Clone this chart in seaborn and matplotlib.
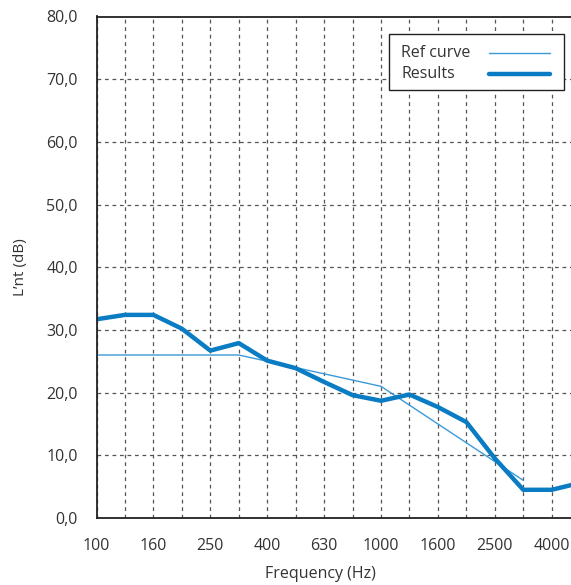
import matplotlib
matplotlib.use("Agg")
import matplotlib.pyplot as plt
import numpy as np
import pandas as pd
import seaborn as sns

# Third-octave bands (Hz)
freqs = [100, 125, 160, 200, 250, 315, 400, 500, 630, 800,
         1000, 1250, 1600, 2000, 2500, 3150, 4000, 5000]

# Measured L'nt (dB)
results = [31.7, 32.4, 32.4, 30.2, 26.7, 27.9, 25.1, 23.9, 21.7, 19.6,
           18.7, 19.7, 17.7, 15.3, 9.5, 4.5, 4.5, 5.6]

# Shifted reference curve, 100 - 3150 Hz
ref_curve = [26.0, 26.0, 26.0, 26.0, 26.0, 26.0, 25.0, 24.0, 23.0, 22.0,
             21.0, 18.0, 15.0, 12.0, 9.0, 6.0]

y_ticks = [0, 10, 20, 30, 40, 50, 60, 70, 80]

ref_color = '#3a9ad9'
res_color = '#0a7cc4'

sns.set_style("white")
plt.rcParams['font.family'] = ['Open Sans', 'DejaVu Sans']

df_res = pd.DataFrame({'pos': np.arange(len(freqs)), 'val': results})
df_ref = pd.DataFrame({'pos': np.arange(len(ref_curve)), 'val': ref_curve})

fig = plt.figure(figsize=(5.71, 5.85), dpi=100)
ax = fig.add_axes([96.5 / 571, 67 / 585, 483.7 / 571, 501.5 / 585])

sns.lineplot(data=df_ref, x='pos', y='val', ax=ax, color=ref_color, linewidth=1.0,
             legend=False)
sns.lineplot(data=df_res, x='pos', y='val', ax=ax, color=res_color, linewidth=3.2,
             legend=False)

ax.set_xlim(0, 17)
ax.set_ylim(0, 80)
ax.set_xticks(np.arange(len(freqs)))
ax.set_xticklabels([str(f) if i % 2 == 0 else '' for i, f in enumerate(freqs)])
ax.set_yticks(y_ticks)
ax.set_yticklabels([f'{v:.1f}'.replace('.', ',') for v in y_ticks])

ax.grid(True, color='#555555', linestyle=(0, (3, 3)), linewidth=0.9)
ax.tick_params(axis='both', labelsize=11.5, colors='#333333', length=3, width=0.8,
               pad=10.5, color='#777777')
ax.tick_params(axis='x', length=0, pad=14.5)

for side in ['left', 'bottom', 'top', 'right']:
    ax.spines[side].set_color('#222222')
    ax.spines[side].set_linewidth(1.3)

ax.set_xlabel('Frequency (Hz)', fontsize=11.5, color='#333333', labelpad=10)
ax.xaxis.set_label_coords(0.464, -0.095)
ax.set_ylabel('L’nt (dB)', fontsize=11, color='#333333', labelpad=13)

# legend box (labels left, line samples right)
tr = ax.transAxes
ax.add_patch(plt.Rectangle((0.605, 0.853), 0.362, 0.112, transform=tr,
                           facecolor='white', edgecolor='#222222', linewidth=1.0,
                           zorder=5))
ax.text(0.630, 0.927, 'Ref curve', transform=tr, fontsize=11.5, color='#333333',
        va='center', ha='left', zorder=6)
ax.text(0.630, 0.885, 'Results', transform=tr, fontsize=11.5, color='#333333',
        va='center', ha='left', zorder=6)
ax.plot([0.811, 0.938], [0.927, 0.927], transform=tr, color=ref_color,
        linewidth=1.0, zorder=6)
ax.plot([0.811, 0.938], [0.885, 0.885], transform=tr, color=res_color,
        linewidth=3.2, solid_capstyle='round', zorder=6)

fig.savefig('out.png', dpi=100)
